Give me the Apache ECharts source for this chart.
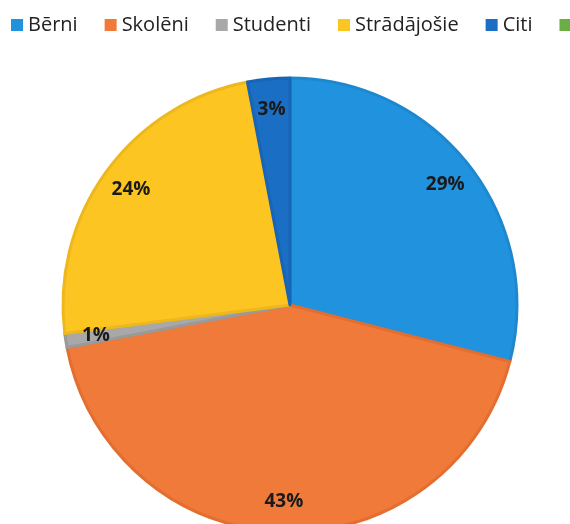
<!DOCTYPE html>
<html>
<head>
<meta charset="utf-8">
<script src="https://cdn.jsdelivr.net/npm/echarts@6/dist/echarts.min.js"></script>
<style>html,body{margin:0;padding:0;background:#fff;}#chart{width:570px;height:524px;}</style>
</head>
<body>
<div id="chart"></div>
<script>
const categories = ['Bērni', 'Skolēni', 'Studenti', 'Strādājošie', 'Citi', 'Pensionāri'];
const values = [29, 43, 1, 24, 3, 0];
const colors = ['#2193DE', '#F07A3A', '#A8A8A8', '#FCC521', '#1A6EC4', '#6CAE45'];
const borderColors = ['#1E88CF', '#E46E30', '#9A9A9A', '#EDB81E', '#1864B5', '#5E9E3A'];

const chart = echarts.init(document.getElementById('chart'));
const mainData = categories.map((c, i) => ({
  name: c, value: values[i],
  itemStyle: { color: colors[i], borderColor: borderColors[i], borderWidth: values[i] > 0 ? 3 : 0 }
}));
const labelData = categories.map((c, i) => ({ name: c, value: values[i] }));

chart.setOption({
  animation: false,
  legend: {
    top: 15, left: 11, width: 1200, padding: 0,
    icon: 'rect', itemWidth: 12, itemHeight: 12, itemGap: 27,
    itemStyle: { borderWidth: 0 },
    textStyle: { fontFamily: 'Open Sans', fontSize: 20, color: '#222' },
    data: categories
  },
  series: [
    {
      type: 'pie', center: [290, 305], radius: 227, startAngle: 90, clockwise: true,
      silent: true, avoidLabelOverlap: false,
      label: { show: false }, labelLine: { show: false },
      data: mainData
    },
    {
      type: 'pie', center: [290, 305], radius: [160, 227], startAngle: 90, clockwise: true,
      silent: true, avoidLabelOverlap: false, legendHoverLink: false,
      itemStyle: { color: 'rgba(0,0,0,0)' },
      label: {
        show: true, position: 'inside',
        fontFamily: 'Open Sans', fontWeight: 'bold', fontSize: 19, color: '#1a1a1a',
        formatter: p => p.value > 0 ? p.value + '%' : ''
      },
      labelLine: { show: false },
      data: labelData
    }
  ]
});
</script>
</body>
</html>
